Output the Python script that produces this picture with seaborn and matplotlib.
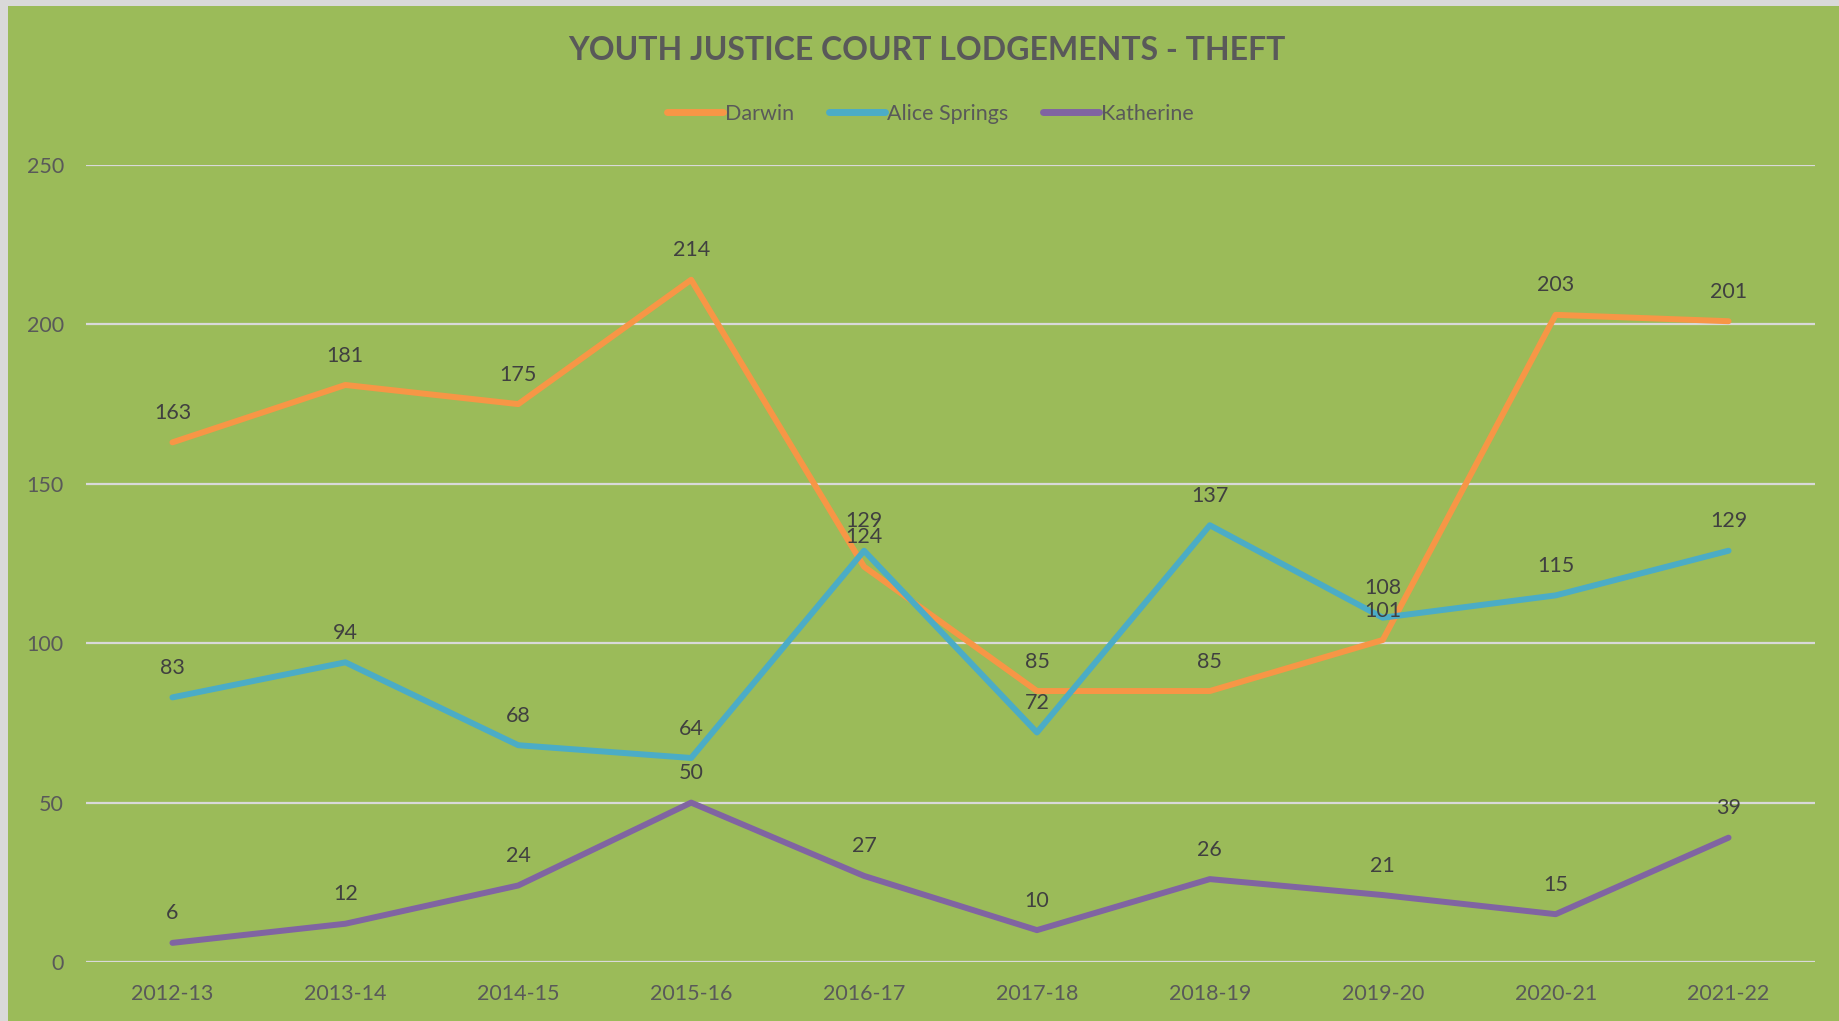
import pandas as pd
import matplotlib
matplotlib.use("Agg")
import matplotlib.pyplot as plt
import seaborn as sns
from matplotlib.patches import Rectangle

years = ['2012-13', '2013-14', '2014-15', '2015-16', '2016-17',
         '2017-18', '2018-19', '2019-20', '2020-21', '2021-22']
darwin = [163, 181, 175, 214, 124, 85, 85, 101, 203, 201]
alice_springs = [83, 94, 68, 64, 129, 72, 137, 108, 115, 129]
katherine = [6, 12, 24, 50, 27, 10, 26, 21, 15, 39]

series = {'Darwin': darwin, 'Alice Springs': alice_springs, 'Katherine': katherine}
colors = {'Darwin': '#F79646', 'Alice Springs': '#4BACC6', 'Katherine': '#8064A2'}

rows = []
for name, vals in series.items():
    for i, (yr, v) in enumerate(zip(years, vals)):
        rows.append({'idx': i, 'Year': yr, 'Region': name, 'Count': v})
df = pd.DataFrame(rows)

bg = '#9BBB59'
txt = '#595959'
grid = '#D9D9D9'

sns.set_theme(style='white')
plt.rcParams['font.family'] = ['Lato', 'DejaVu Sans']

fig = plt.figure(figsize=(18.39, 10.21), dpi=100, facecolor=bg)
ax = fig.add_axes([86 / 1839, 1 - 962 / 1021, (1815 - 86) / 1839, (962 - 165) / 1021])
ax.set_facecolor(bg)

sns.lineplot(data=df, x='idx', y='Count', hue='Region', palette=colors,
             linewidth=4.3, ax=ax, legend=False, solid_capstyle='round')

# data labels above each point
for name, vals in series.items():
    for i, v in enumerate(vals):
        ax.annotate(str(v), (i, v), xytext=(0, 14), textcoords='offset points',
                    ha='center', va='bottom', fontsize=15.5, color='#404040')

ax.set_xlim(-0.5, 9.5)
ax.set_ylim(0, 250)
ax.set_yticks(range(0, 251, 50))
ax.set_xticks(range(len(years)))
ax.set_xticklabels(years)
ax.tick_params(axis='both', colors=txt, labelsize=15.5, length=0)
ax.tick_params(axis='y', pad=16)
ax.tick_params(axis='x', pad=16)
ax.yaxis.grid(True, color=grid, linewidth=1.6)
ax.set_axisbelow(True)
for s in ax.spines.values():
    s.set_visible(False)
ax.set_xlabel('')
ax.set_ylabel('')

fig.text(0.504, 1 - 51 / 1021, 'YOUTH JUSTICE COURT LODGEMENTS - THEFT',
         ha='center', va='center', fontsize=23, fontweight='bold', color=txt)

handles = [plt.Line2D([], [], color=colors[n], linewidth=5, solid_capstyle='round') for n in series]
fig.legend(handles, list(series.keys()), loc='center', bbox_to_anchor=(0.506, 1 - 114 / 1021),
           ncol=3, frameon=False, fontsize=15.5, handlelength=2.6, handletextpad=0.1,
           columnspacing=1.6, labelcolor=txt)

# chart border (top and left visible)
fig.patches.append(Rectangle((0, 1 - 6 / 1021), 1, 6 / 1021, transform=fig.transFigure,
                             facecolor=grid, edgecolor='none'))
fig.patches.append(Rectangle((0, 0), 8 / 1839, 1, transform=fig.transFigure,
                             facecolor=grid, edgecolor='none'))

fig.savefig('out.png', dpi=100, facecolor=bg)
